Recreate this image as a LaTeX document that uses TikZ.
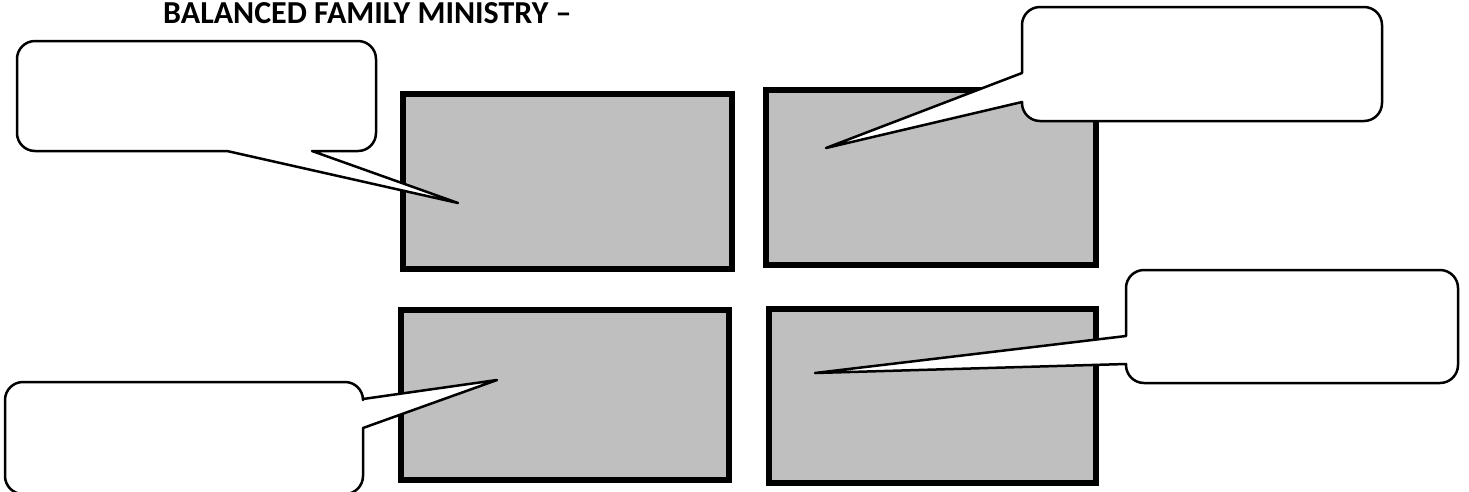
\documentclass[tikz,border=0pt]{standalone}
\usepackage{fontspec}
\setmainfont{Carlito}
\definecolor{boxgray}{RGB}{191,191,191}
\begin{document}
\begin{tikzpicture}[x=1pt,y=1pt,
  graybox/.style={draw=black,line width=6pt,fill=boxgray,rectangle,inner sep=0pt,outer sep=0pt},
  callout/.style={draw=black,line width=2.5pt,fill=white,line join=round}]
\useasboundingbox (0,0) rectangle (1469,-491);
\clip (0,0) rectangle (1469,-491);
% title
\node[anchor=base west,inner sep=0pt,font=\bfseries\fontsize{32}{38}\selectfont] (title) at (163,-23) {BALANCED FAMILY MINISTRY –};
% gray boxes
\node[graybox,minimum width=329pt,minimum height=175pt] (A) at (567.5,-181.5) {};
\node[graybox,minimum width=330pt,minimum height=175pt] (B) at (931,-177.5) {};
\node[graybox,minimum width=328pt,minimum height=170pt] (C) at (565,-395) {};
\node[graybox,minimum width=327pt,minimum height=174pt] (D) at (932.5,-396) {};
% tips
\coordinate (tipA) at (458,-203);
\coordinate (tipB) at (826,-148);
\coordinate (tipC) at (497,-380);
\coordinate (tipD) at (815,-373);
% callout 1 (top left)
\draw[callout] (227,-151) -- (tipA) -- (312,-151) -- (358,-151)
  arc[start angle=270,end angle=360,radius=18] -- (376,-59)
  arc[start angle=0,end angle=90,radius=18] -- (35,-41)
  arc[start angle=90,end angle=180,radius=18] -- (17,-133)
  arc[start angle=180,end angle=270,radius=18] -- cycle;
% callout 2 (top right)
\draw[callout] (1022,-73) -- (tipB) -- (1022,-102) -- (1022,-103)
  arc[start angle=180,end angle=270,radius=18] -- (1364,-121)
  arc[start angle=270,end angle=360,radius=18] -- (1382,-25)
  arc[start angle=0,end angle=90,radius=18] -- (1040,-7)
  arc[start angle=90,end angle=180,radius=18] -- cycle;
% callout 3 (bottom left)
\draw[callout] (363,-399) -- (tipC) -- (363,-428) -- (363,-476)
  arc[start angle=0,end angle=-90,radius=18] -- (23,-494)
  arc[start angle=270,end angle=180,radius=18] -- (5,-400)
  arc[start angle=180,end angle=90,radius=18] -- (345,-382)
  arc[start angle=90,end angle=0,radius=18] -- cycle;
% callout 4 (bottom right)
\draw[callout] (1126,-336) -- (tipD) -- (1126,-364) -- (1126,-365)
  arc[start angle=180,end angle=270,radius=18] -- (1440,-383)
  arc[start angle=270,end angle=360,radius=18] -- (1458,-288)
  arc[start angle=0,end angle=90,radius=18] -- (1144,-270)
  arc[start angle=90,end angle=180,radius=18] -- cycle;
\end{tikzpicture}
\end{document}
